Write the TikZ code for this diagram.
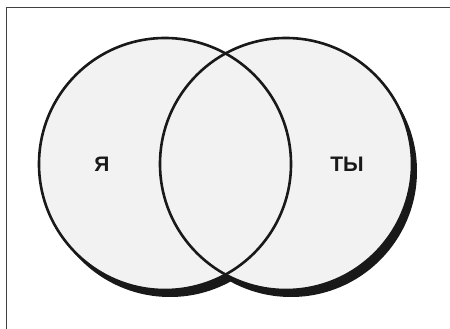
\documentclass[tikz,border=0pt]{standalone}
\usepackage{fontspec}
\setmainfont{Liberation Sans}
\begin{document}
\begin{tikzpicture}[x=1pt,y=-1pt,
  shadowc/.style={fill=black!90,draw=none},
  fillc/.style={fill=black!5,draw=none},
  edgec/.style={draw=black!90,line width=2.6pt},
  framel/.style={draw=black!75,line width=1pt},
  lbl/.style={font=\fontsize{21}{21}\selectfont\bfseries,text=black!90,inner sep=0pt}]
\useasboundingbox (0,0) rectangle (450,329);
\fill[white] (0,0) rectangle (450,329);
% frame
\coordinate (fbl) at (6,329);
\coordinate (ftl) at (6,8);
\coordinate (ftr) at (450,8);
\draw[framel] (fbl) -- (ftl) -- (ftr);
% circle centres
\coordinate (a) at (165,164);
\coordinate (b) at (286,164);
% shadows
\fill[shadowc] ([shift={(5,7)}]a) circle[radius=126];
\fill[shadowc] ([shift={(5,7)}]b) circle[radius=126];
% fills
\fill[fillc] (a) circle[radius=126];
\fill[fillc] (b) circle[radius=126];
% outlines
\draw[edgec] (a) circle[radius=126];
\draw[edgec] (b) circle[radius=126];
% labels
\node[lbl] (me) at (102,164) {Я};
\node[lbl] (you) at (347,164) {ТЫ};
\end{tikzpicture}
\end{document}
